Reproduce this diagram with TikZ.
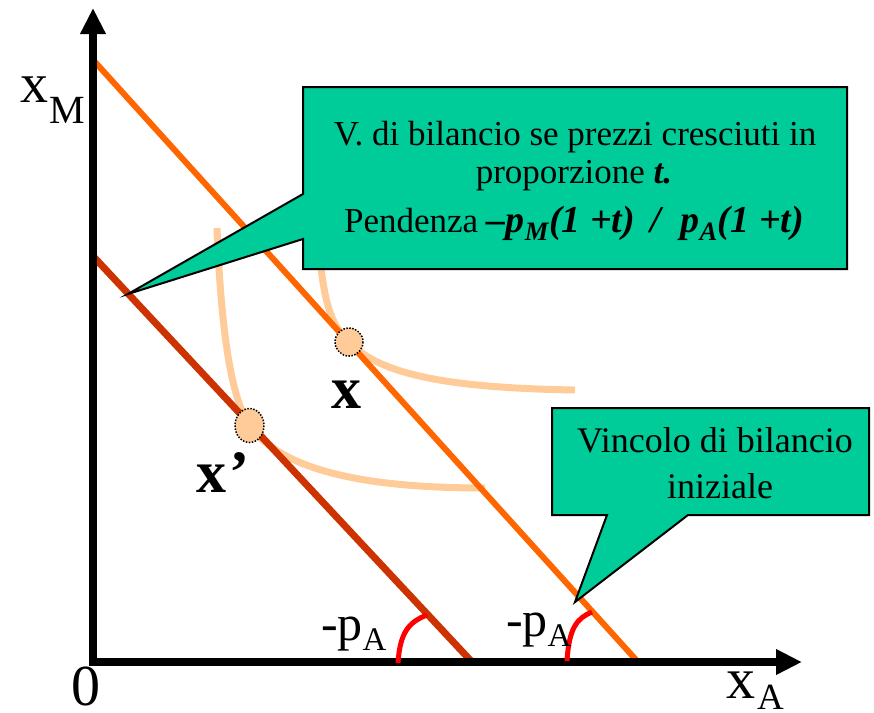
\documentclass[tikz,border=0pt]{standalone}
\usepackage{fontspec}
\setmainfont{Liberation Serif}
\usetikzlibrary{arrows.meta}
\definecolor{callgreen}{HTML}{00CC99}
\definecolor{budgetouter}{HTML}{FF6600}
\definecolor{budgetinner}{HTML}{CC3300}
\definecolor{indiffcol}{HTML}{FFCC99}
\definecolor{arccol}{HTML}{FF0000}
\begin{document}
\begin{tikzpicture}[x=1pt,y=-1pt,
  axisline/.style={line width=8pt, line join=miter, {Triangle[width=24pt,length=26pt]}-{Triangle[width=24pt,length=26pt]}},
  outerline/.style={line width=6pt, draw=budgetouter},
  innerline/.style={line width=7pt, draw=budgetinner},
  indiff/.style={line width=7pt, draw=indiffcol},
  anglearc/.style={line width=5pt, draw=arccol},
  dotpt/.style={fill=indiffcol, draw=black, line width=1.5pt, dash pattern=on 1.5pt off 1.5pt},
  callout/.style={fill=callgreen, draw=black, line width=2pt, line join=miter},
  lbl/.style={inner sep=0pt, outer sep=0pt},
  ctext/.style={inner sep=0pt, anchor=base, font=\fontsize{35}{35}\selectfont},
  ctextb/.style={inner sep=0pt, anchor=base, font=\fontsize{36}{36}\selectfont}
]
\useasboundingbox (0,0) rectangle (874,712);

% coordinates
\coordinate (ytip) at (93,8);
\coordinate (orig) at (93,662);
\coordinate (xtip) at (802,662);
\coordinate (outerA) at (95,62);
\coordinate (outerB) at (638,662);
\coordinate (innerA) at (92,255);
\coordinate (innerB) at (472,662);
\coordinate (xpt) at (349,342);
\coordinate (xppt) at (249.5,425.5);

% indifference curves
\draw[indiff] (217,228) .. controls (221,330) and (231,398) .. (xppt) .. controls (285,475) and (380,488) .. (485,488);
\draw[indiff] (319,250) .. controls (324,300) and (330,325) .. (xpt) .. controls (380,375) and (450,388) .. (575,390);

% budget lines
\draw[outerline] (outerA) -- (outerB);
\draw[innerline] (innerA) -- (innerB);

% axes
\draw[axisline] (ytip) -- (orig) -- (xtip);

% points
\draw[dotpt] (xpt) ellipse [x radius=14, y radius=14];
\draw[dotpt] (xppt) ellipse [x radius=14.5, y radius=17];

% angle arcs
\draw[anglearc] (398,663) .. controls (400,632) and (409,622) .. (427,615);
\draw[anglearc] (567,661) .. controls (569,628) and (577,618) .. (592,612);

% labels
\node[lbl, anchor=base west] (xm) at (20,102) {\fontsize{56}{56}\selectfont x\kern1pt\raisebox{-21pt}{\fontsize{40}{40}\selectfont M}};
\node[lbl, anchor=base west] (zero) at (71,705) {\fontsize{58}{58}\selectfont 0};
\node[lbl, anchor=base west] (xa) at (726,698) {\fontsize{58}{58}\selectfont x\kern2pt\raisebox{-11pt}{\fontsize{37}{37}\selectfont A}};
\node[lbl, anchor=base west] (pa1) at (321,640) {\fontsize{50}{50}\selectfont -p\raisebox{-10pt}{\fontsize{33}{33}\selectfont A}};
\node[lbl, anchor=base west] (pa2) at (506,636) {\fontsize{50}{50}\selectfont -p\raisebox{-10pt}{\fontsize{33}{33}\selectfont A}};
\node[lbl, anchor=base west] (xlab) at (331,408) {\fontsize{60}{60}\selectfont\bfseries x};
\node[lbl, anchor=base west] (xplab) at (196,492) {\fontsize{60}{60}\selectfont\bfseries x\kern3pt’};

% callout 1
\coordinate (tip1) at (128,294);
\draw[callout] (303,87) -- (847,87) -- (847,269) -- (303,269) -- (303,239) -- (tip1) -- (303,194) -- cycle;
\node[ctext] (c1a) at (575,145) {V. di bilancio se prezzi cresciuti in};
\node[ctext] (c1b) at (574,183) {proporzione \textbf{\textit{t.}}};
\node[ctext] (c1c) at (574,232) {Pendenza {\fontsize{38}{38}\selectfont\bfseries\itshape –p\textsubscript{M}(1 +t)\hspace{15pt}/\hspace{20pt}p\textsubscript{A}(1 +t)}};

% callout 2
\coordinate (tip2) at (575,602);
\draw[callout] (552,408) -- (869,408) -- (869,515) -- (688,515) -- (tip2) -- (607,515) -- (552,515) -- cycle;
\node[ctextb] (c2a) at (715,452) {Vincolo di bilancio};
\node[ctextb] (c2b) at (720,498) {iniziale};
\end{tikzpicture}
\end{document}
